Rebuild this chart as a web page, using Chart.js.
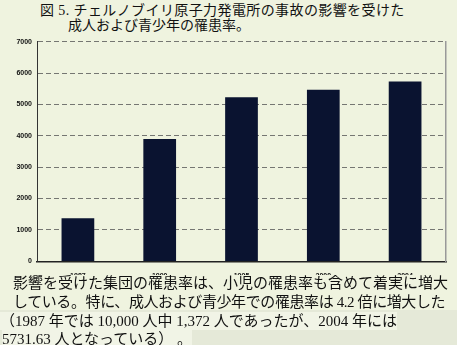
<!DOCTYPE html>
<html>
<head>
<meta charset="utf-8">
<script src="https://cdn.jsdelivr.net/npm/chart.js@4"></script>
<style>
  html, body { margin: 0; padding: 0; }
  body { width: 457px; height: 345px; background: #eff3df; position: relative; overflow: hidden; }
  #lower { position: absolute; left: 0; top: 310px; width: 457px; height: 35px; background: #e5e9d8; }
  .title { position: absolute; font-family: "Liberation Serif", "Noto Sans CJK JP"; font-size: 14px; color: #111; white-space: nowrap; line-height: 16px; }
  .note { position: absolute; left: 0; font-family: "Liberation Serif", "Noto Sans CJK JP"; font-size: 15px; color: #111; white-space: nowrap; line-height: 18px; }
  #box { position: absolute; left: 0; top: 30px; width: 457px; height: 245px; }
</style>
</head>
<body>
<div id="lower"></div>
<div class="title" style="left:40px; top:3px; letter-spacing:0.4px;">図 5. チェルノブイリ原子力発電所の事故の影響を受けた</div>
<div class="title" style="left:68px; top:18px;">成人および青少年の罹患率。</div>
<div id="box"><canvas id="chart" width="457" height="245"></canvas></div>
<div class="note" style="left:13px; top:274px;">影響を受けた集団の罹患率は、小児の罹患率も含めて着実に増大</div>
<div class="note" style="left:13px; top:293px; letter-spacing:-0.4px;">している。特に、成人および青少年での罹患率は 4.2 倍に増大した</div>
<div class="note" style="left:0px; top:312px; background:#f1f4e6;">（1987 年では 10,000 人中 1,372 人であったが、2004 年には</div>
<div class="note" style="left:2px; top:330px; background:#f1f4e6;">5731.63 人となっている） 。</div>
<script>
const years = ['1987', '1990', '1995', '2000', '2004'];
const rates = [1372, 3900, 5230, 5470, 5732];
const yTicks = [0, 1000, 2000, 3000, 4000, 5000, 6000, 7000];

const ctx = document.getElementById('chart').getContext('2d');
new Chart(ctx, {
    type: 'bar',
    data: {
        labels: years,
        datasets: [{
            data: rates,
            backgroundColor: '#0a1330',
            barPercentage: 0.4,
            categoryPercentage: 1.0
        }]
    },
    options: {
        responsive: false,
        animation: false,
        layout: { padding: { top: 11.7, right: 11, left: 0, bottom: 0 } },
        plugins: { legend: { display: false }, tooltip: { enabled: false } },
        scales: {
            x: {
                grid: { display: false },
                border: { color: '#222', width: 1.5 },
                ticks: { color: '#111', padding: 3, font: { family: 'Liberation Sans', size: 7, weight: 'bold' } },
                afterFit: s => { s.height = 13.7; }
            },
            y: {
                min: 0,
                max: 7000,
                afterBuildTicks: s => { s.ticks = yTicks.map(v => ({ value: v })); },
                grid: { color: '#555', lineWidth: 0.8, drawTicks: false },
                border: { color: '#333', width: 1, dash: [5, 3] },
                ticks: {
                    color: '#111',
                    padding: 5,
                    font: { family: 'Liberation Sans', size: 7, weight: 'bold' },
                    callback: v => String(v)
                },
                afterFit: s => { s.width = 37; }
            },
            y2: {
                position: 'right',
                min: 0,
                max: 7000,
                grid: { drawOnChartArea: false, drawTicks: false },
                border: { color: '#999', width: 1.5 },
                ticks: { display: false },
                afterFit: s => { s.width = 0; }
            }
        }
    }
});
</script>
</body>
</html>
